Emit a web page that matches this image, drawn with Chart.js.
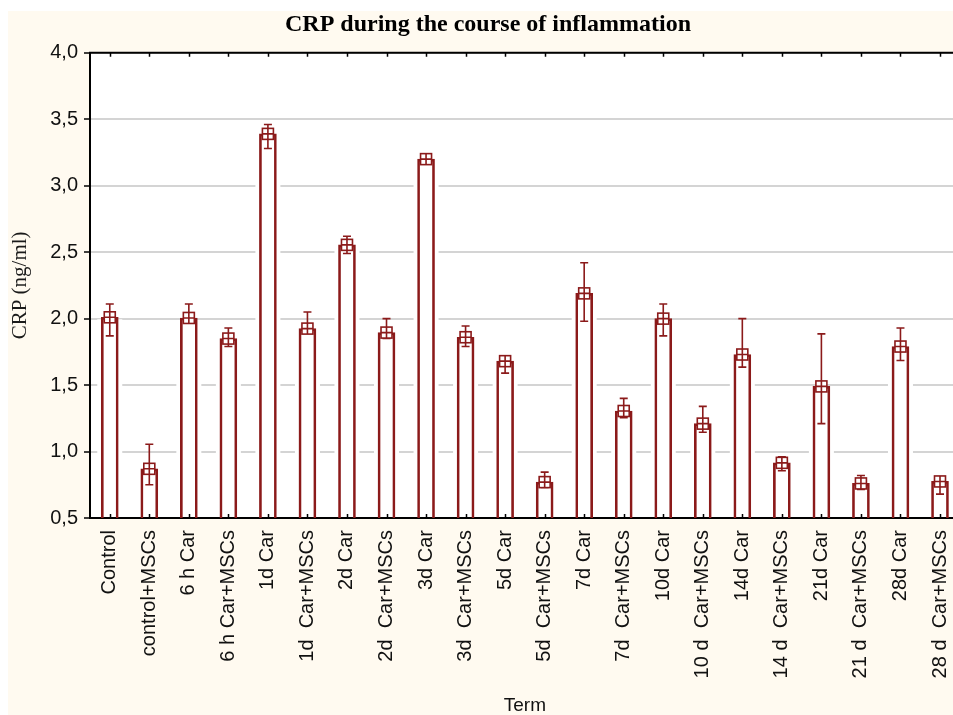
<!DOCTYPE html>
<html>
<head>
<meta charset="utf-8">
<title>CRP during the course of inflammation</title>
<script src="https://cdn.jsdelivr.net/npm/chart.js@4"></script>
<style>
    html, body { margin: 0; padding: 0; background: #ffffff; overflow: hidden; }
    #wrap { width: 953px; height: 715px; overflow: hidden; }
</style>
</head>
<body>
<div id="wrap"><canvas id="crpChart" width="976" height="715"></canvas></div>
<script>
// data
var terms = ['Control', 'control+MSCs', '6 h Car', '6 h Car+MSCs', '1d Car', '1d  Car+MSCs',
    '2d Car', '2d  Car+MSCs', '3d Car', '3d  Car+MSCs', '5d Car', '5d  Car+MSCs',
    '7d Car', '7d  Car+MSCs', '10d Car', '10 d  Car+MSCs', '14d Car', '14 d  Car+MSCs',
    '21d Car', '21 d  Car+MSCs', '28d Car', '28 d  Car+MSCs'];
var crpMean = [2.01, 0.87, 2.005, 1.85, 3.39, 1.925, 2.555, 1.895, 3.20, 1.86, 1.68, 0.77,
    2.19, 1.305, 2.00, 1.21, 1.73, 0.915, 1.49, 0.76, 1.79, 0.775];
var crpLow = [1.87, 0.75, 1.97, 1.79, 3.28, 1.89, 2.49, 1.85, 3.17, 1.79, 1.59, 0.73,
    1.98, 1.255, 1.87, 1.145, 1.635, 0.855, 1.21, 0.715, 1.685, 0.68];
var crpHigh = [2.11, 1.055, 2.11, 1.93, 3.46, 2.05, 2.62, 2.00, 3.22, 1.945, 1.72, 0.845,
    2.42, 1.40, 2.11, 1.34, 2.00, 0.96, 1.885, 0.82, 1.93, 0.80];
var yTicks = [0.5, 1.0, 1.5, 2.0, 2.5, 3.0, 3.5, 4.0];

var barColor = '#8b1a1a';
var cream = '#fffaf0';

// cream page, white plot area, gaps in gridlines next to bars
var backgroundPlugin = {
    id: 'background',
    beforeDraw: function (chart) {
        var ctx = chart.ctx;
        var a = chart.chartArea;
        ctx.save();
        ctx.fillStyle = cream;
        ctx.fillRect(8, 11, chart.width, chart.height);
        ctx.fillStyle = '#ffffff';
        ctx.fillRect(a.left, a.top, a.right - a.left, a.bottom - a.top);
        ctx.restore();
    },
    beforeDatasetsDraw: function (chart) {
        var ctx = chart.ctx;
        var a = chart.chartArea;
        var meta = chart.getDatasetMeta(0);
        ctx.save();
        ctx.fillStyle = '#ffffff';
        meta.data.forEach(function (bar) {
            var half = bar.width / 2 + 4;
            var bottom = Math.min(bar.base, a.bottom - 1);
            ctx.fillRect(bar.x - half, bar.y + 2, half * 2, bottom - bar.y - 2);
        });
        ctx.restore();
    }
};

// frame ticks along top border and bottom axis
var framePlugin = {
    id: 'frame',
    afterDraw: function (chart) {
        var ctx = chart.ctx;
        var a = chart.chartArea;
        var x = chart.scales.x;
        ctx.save();
        ctx.strokeStyle = '#000000';
        ctx.lineWidth = 2;
        ctx.beginPath();
        ctx.moveTo(a.left - 1, a.top);
        ctx.lineTo(a.right, a.top);
        ctx.stroke();
        ctx.lineWidth = 1.5;
        ctx.beginPath();
        terms.forEach(function (t, i) {
            var px = Math.round(x.getPixelForValue(i)) + 0.5;
            ctx.moveTo(px, a.top);
            ctx.lineTo(px, a.top + 4);
            ctx.moveTo(px, a.bottom);
            ctx.lineTo(px, a.bottom - 4);
        });
        ctx.stroke();
        ctx.restore();
    }
};

// error bars and square markers at bar tops
var errorPlugin = {
    id: 'errorBars',
    afterDatasetsDraw: function (chart) {
        var ctx = chart.ctx;
        var x = chart.scales.x;
        var y = chart.scales.y;
        ctx.save();
        ctx.strokeStyle = barColor;
        ctx.lineWidth = 1.6;
        crpMean.forEach(function (m, i) {
            var px = x.getPixelForValue(i);
            var yHi = y.getPixelForValue(crpHigh[i]);
            var yLo = y.getPixelForValue(crpLow[i]);
            var yM = y.getPixelForValue(m);
            ctx.beginPath();
            ctx.moveTo(px, yHi);
            ctx.lineTo(px, yLo);
            ctx.moveTo(px - 4, yHi);
            ctx.lineTo(px + 4, yHi);
            ctx.moveTo(px - 4, yLo);
            ctx.lineTo(px + 4, yLo);
            ctx.stroke();
            ctx.fillStyle = '#ffffff';
            ctx.fillRect(px - 5.5, yM - 5.5, 11, 11);
            ctx.strokeRect(px - 5.5, yM - 5.5, 11, 11);
            ctx.beginPath();
            ctx.moveTo(px - 5.5, yM);
            ctx.lineTo(px + 5.5, yM);
            ctx.moveTo(px, yM - 5.5);
            ctx.lineTo(px, yM + 5.5);
            ctx.stroke();
        });
        ctx.restore();
    }
};

document.addEventListener('DOMContentLoaded', function () {
    var ctx = document.getElementById('crpChart');
    new Chart(ctx, {
        type: 'bar',
        data: {
            labels: terms,
            datasets: [{
                label: 'CRP',
                data: crpMean,
                backgroundColor: 'rgba(255,255,255,0)',
                borderColor: barColor,
                borderWidth: 2,
                borderSkipped: 'bottom',
                barThickness: 17
            }]
        },
        options: {
            responsive: false,
            animation: false,
            devicePixelRatio: 1,
            layout: { padding: { left: 0, right: 0, top: 0, bottom: 0 } },
            plugins: {
                legend: { display: false },
                tooltip: { enabled: false },
                title: {
                    display: true,
                    text: 'CRP during the course of inflammation',
                    color: '#000000',
                    font: { family: "'Liberation Serif', 'Times New Roman', serif", size: 24, weight: 'bold' },
                    padding: { top: 10, bottom: 14 }
                }
            },
            scales: {
                x: {
                    offset: true,
                    grid: { display: false, drawTicks: false },
                    border: { display: true, color: '#000000', width: 2 },
                    ticks: {
                        autoSkip: false,
                        minRotation: 90,
                        maxRotation: 90,
                        padding: 12,
                        color: '#111111',
                        font: { family: "'Liberation Sans', Arial, sans-serif", size: 20 }
                    },
                    title: {
                        display: true,
                        text: 'Term',
                        color: '#111111',
                        font: { family: "'Liberation Sans', Arial, sans-serif", size: 19, lineHeight: 1 },
                        padding: { top: 0, bottom: 0 }
                    },
                    afterFit: function (scale) { scale.height = 197; }
                },
                y: {
                    min: 0.5,
                    max: 4.0,
                    afterBuildTicks: function (scale) {
                        scale.ticks = yTicks.map(function (v) { return { value: v }; });
                    },
                    grid: { color: '#d4d4d4', lineWidth: 2, tickColor: '#000000', tickLength: 6, tickWidth: 1.5 },
                    border: { display: true, color: '#000000', width: 2 },
                    ticks: {
                        padding: 6,
                        color: '#111111',
                        font: { family: "'Liberation Sans', Arial, sans-serif", size: 20 },
                        callback: function (v) { return Number(v).toFixed(1).replace('.', ','); }
                    },
                    title: {
                        display: true,
                        text: 'CRP (ng/ml)',
                        color: '#1a1a1a',
                        font: { family: "'Liberation Serif', 'Times New Roman', serif", size: 21 },
                        padding: { top: 8, bottom: 0 }
                    },
                    afterFit: function (scale) { scale.width = 90; }
                }
            }
        },
        plugins: [backgroundPlugin, errorPlugin, framePlugin]
    });
});
</script>
</body>
</html>
